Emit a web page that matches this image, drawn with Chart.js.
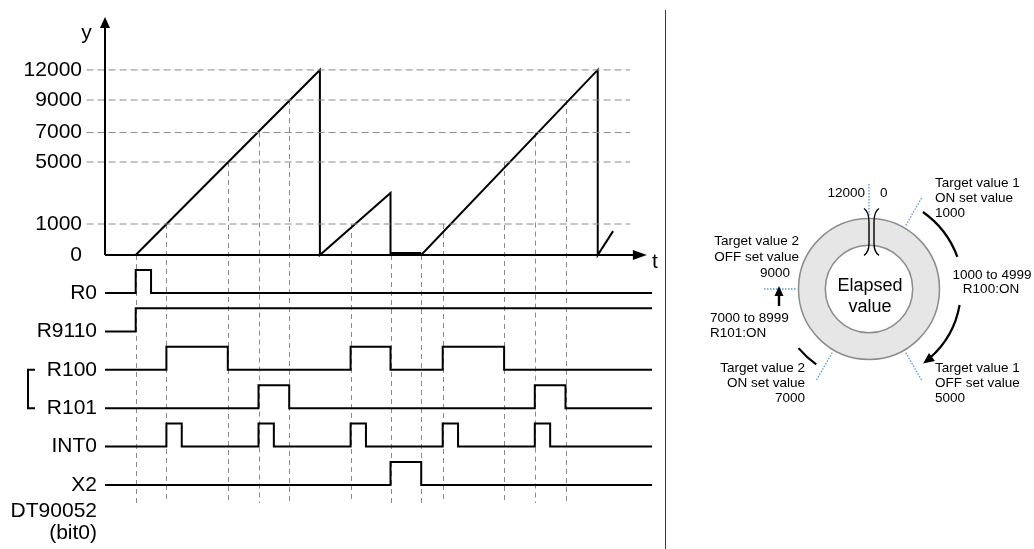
<!DOCTYPE html>
<html><head><meta charset="utf-8">
<script src="https://cdn.jsdelivr.net/npm/chart.js@4/dist/chart.umd.min.js"></script>
<style>
html,body{margin:0;padding:0;background:#fff;}
#wrap{position:relative;width:1034px;height:549px;overflow:hidden;background:#fff;}
#c1{position:absolute;left:0;top:0;}
#c2{position:absolute;left:680px;top:160px;}
#sep{position:absolute;left:665px;top:10px;width:1px;height:539px;background:#3a3a3a;}
</style></head><body>
<div id="wrap">
<canvas id="c1" width="666" height="549"></canvas>
<div id="sep"></div>
<canvas id="c2" width="354" height="260"></canvas>
</div>
<script>
// ---------------- data ----------------
const yTicks = [0, 1000, 5000, 7000, 9000, 12000];
const tickRank = [0, 1, 3, 3.95, 5, 5.97];          // schematic spacing of the value axis
const sawT = [0, 60, 60, 83, 83, 93, 150.5, 150.5, 155.5];
const sawV = [0, 12000, 0, 3000, 0, 0, 12000, 0, 770];
const guideT = [0, 10, 30, 40, 50, 70, 83, 93, 100, 120, 130, 140];
const guideV = [0, 1000, 5000, 7000, 9000, 1000, 0, 0, 1000, 5000, 7000, 9000];
const signalNames = ['R0', 'R9110', 'R100', 'R101', 'INT0', 'X2'];
const r0Edges = [0, 5];
const r9110Edges = [0];
const r100Edges = [10, 30, 70, 83, 100, 120];
const r101Edges = [40, 50, 130, 140];
const int0Edges = [10, 15, 40, 45, 70, 75, 100, 105, 130, 135];
const x2Edges = [83, 93];
const signalEdges = [r0Edges, r9110Edges, r100Edges, r101Edges, int0Edges, x2Edges];
const ringBounds = [0, 1000, 5000, 7000, 9000, 12000];

// ---------------- layout constants ----------------
const FONT = '"Liberation Sans", Arial, sans-serif';
const T_MIN = -10, T_MAX = 170;
const SIG_END = 168.2, GRID_START = -16, GRID_END = 161, ARROW_END = 166.5;
const RANK_PX = 31, ZERO_PX = 255, TOP_PX = 17, H = 549;
const yMax = (ZERO_PX - TOP_PX) / RANK_PX;
const yMin = yMax - (H - TOP_PX) / RANK_PX;
const ROW_PX = 38.4, ROW0_PX = 293, HIGH = 0.6;
const ysMax = (ROW0_PX - TOP_PX) / ROW_PX;
const ysMin = ysMax - (H - TOP_PX) / ROW_PX;
const GUIDE_BOTTOM = -5.47;
const PX_PER_T = 3.07;
const padRight = 666 - 105 - (T_MAX - T_MIN) * PX_PER_T;

// ------------- piecewise value scale -------------
function toRank(v) {
  const n = yTicks.length;
  if (v <= yTicks[0]) return tickRank[0] + (v - yTicks[0]) / (yTicks[1] - yTicks[0]) * (tickRank[1] - tickRank[0]);
  for (let i = 1; i < n; i++) {
    if (v <= yTicks[i]) {
      const f = (v - yTicks[i - 1]) / (yTicks[i] - yTicks[i - 1]);
      return tickRank[i - 1] + f * (tickRank[i] - tickRank[i - 1]);
    }
  }
  const f = (v - yTicks[n - 1]) / (yTicks[n - 1] - yTicks[n - 2]);
  return tickRank[n - 1] + f * (tickRank[n - 1] - tickRank[n - 2]);
}
class LevelScale extends Chart.LinearScale {
  getPixelForValue(v) {
    if (v === null || v === undefined) return NaN;
    return this.getPixelForDecimal((toRank(v) - this._startValue) / this._valueRange);
  }
}
LevelScale.id = 'level';
LevelScale.defaults = Chart.LinearScale.defaults;
Chart.register(LevelScale);

// ------------- datasets -------------
const rowY = (row, s) => -row + s * HIGH;
function stepPoints(edges, row) {
  const pts = [];
  let s = 0;
  pts.push({x: T_MIN, y: rowY(row, s)});
  edges.forEach(e => {
    pts.push({x: e, y: rowY(row, s)});
    s = 1 - s;
    pts.push({x: e, y: rowY(row, s)});
  });
  pts.push({x: SIG_END, y: rowY(row, s)});
  return pts;
}
const base = {showLine: true, pointRadius: 0, tension: 0, fill: false, clip: false};
const datasets = [];
yTicks.filter(v => v > 0).forEach(v => {
  datasets.push(Object.assign({}, base, {
    yAxisID: 'y', borderColor: '#8a8a8a', borderWidth: 1, borderDash: [7, 4],
    data: [{x: GRID_START, y: v}, {x: GRID_END, y: v}]
  }));
});
datasets.push(Object.assign({}, base, {
  yAxisID: 'y', borderColor: '#000', borderWidth: 2,
  data: sawT.map((t, i) => ({x: t, y: sawV[i]}))
}));
signalEdges.forEach((edges, row) => {
  datasets.push(Object.assign({}, base, {
    yAxisID: 'ys', borderColor: '#000', borderWidth: 2,
    data: stepPoints(edges, row)
  }));
});

const timingPlugin = {
  id: 'timing',
  beforeDatasetsDraw(chart) {
    const {ctx} = chart;
    const xs = chart.scales.x, yl = chart.scales.y, ys = chart.scales.ys;
    ctx.save();
    ctx.strokeStyle = '#8a8a8a';
    ctx.lineWidth = 1;
    ctx.setLineDash([5, 4]);
    guideT.forEach((t, i) => {
      const x = Math.round(xs.getPixelForValue(t)) + 0.5;
      ctx.beginPath();
      ctx.moveTo(x, yl.getPixelForValue(guideV[i]));
      ctx.lineTo(x, ys.getPixelForValue(GUIDE_BOTTOM));
      ctx.stroke();
    });
    ctx.restore();
  },
  afterDatasetsDraw(chart) {
    const {ctx, chartArea} = chart;
    const xs = chart.scales.x, yl = chart.scales.y, ys = chart.scales.ys;
    const ax = xs.getPixelForValue(T_MIN);
    const ay = yl.getPixelForValue(0);
    const tipX = xs.getPixelForValue(ARROW_END);
    ctx.save();
    ctx.strokeStyle = '#000';
    ctx.fillStyle = '#000';
    ctx.lineWidth = 2;
    ctx.setLineDash([]);
    // axes
    ctx.beginPath();
    ctx.moveTo(ax, ay); ctx.lineTo(tipX - 10, ay);
    ctx.moveTo(ax, ay); ctx.lineTo(ax, chartArea.top + 8);
    ctx.stroke();
    ctx.beginPath();
    ctx.moveTo(tipX, ay); ctx.lineTo(tipX - 14, ay - 5); ctx.lineTo(tipX - 14, ay + 5); ctx.closePath(); ctx.fill();
    ctx.beginPath();
    ctx.moveTo(ax, chartArea.top); ctx.lineTo(ax - 5, chartArea.top + 11); ctx.lineTo(ax + 5, chartArea.top + 11); ctx.closePath(); ctx.fill();
    // flat stretch of the elapsed value drawn slightly heavier (as in the source)
    ctx.lineWidth = 2;
    ctx.beginPath();
    ctx.moveTo(xs.getPixelForValue(sawT[4]), ay - 2);
    ctx.lineTo(xs.getPixelForValue(sawT[5]), ay - 2);
    ctx.stroke();
    // axis names
    ctx.font = '21px ' + FONT;
    ctx.textBaseline = 'middle';
    ctx.textAlign = 'center';
    ctx.fillText('y', ax - 18.5, chartArea.top + 16);
    ctx.fillText('t', tipX + 8, ay + 7);
    // row labels
    ctx.textAlign = 'right';
    signalNames.forEach((n, row) => {
      ctx.fillText(n, ax - 8, ys.getPixelForValue(rowY(row, 0)));
    });
    const x2y = ys.getPixelForValue(rowY(5, 0));
    ctx.fillText('DT90052', ax - 8, x2y + 26);
    ctx.fillText('(bit0)', ax - 8, x2y + 48);
    // bracket joining R100 / R101
    const b1 = ys.getPixelForValue(rowY(2, 0)), b2 = ys.getPixelForValue(rowY(3, 0));
    ctx.beginPath();
    ctx.moveTo(ax - 70, b1); ctx.lineTo(ax - 77, b1); ctx.lineTo(ax - 77, b2); ctx.lineTo(ax - 70, b2);
    ctx.stroke();
    ctx.restore();
  }
};

new Chart(document.getElementById('c1'), {
  type: 'scatter',
  data: {datasets},
  options: {
    responsive: false, animation: false, events: [], devicePixelRatio: 1,
    layout: {padding: {left: 0, top: TOP_PX, right: padRight, bottom: 0}},
    plugins: {legend: {display: false}, tooltip: {enabled: false}},
    scales: {
      x: {type: 'linear', min: T_MIN, max: T_MAX, display: false},
      y: {
        type: 'level', position: 'left', min: yMin, max: yMax, bounds: 'data',
        grid: {display: false, drawTicks: false},
        border: {display: false},
        ticks: {color: '#000', font: {size: 21, family: FONT}, padding: 23, autoSkip: false,
                callback: (v) => String(v)},
        afterBuildTicks: (s) => { s.ticks = yTicks.map(v => ({value: v})); },
        afterFit: (s) => { s.width = 105; s.paddingTop = 0; s.paddingBottom = 0; }
      },
      ys: {type: 'linear', display: false, min: ysMin, max: ysMax}
    }
  },
  plugins: [timingPlugin]
});

// ------------- ring diagram -------------
const ringSpans = ringBounds.slice(1).map((b, i) => b - ringBounds[i]);
const BLUE = '#5b9bd5';
function clockPt(cx, cy, rho, deg) {
  const a = deg * Math.PI / 180;
  return [cx + rho * Math.sin(a), cy - rho * Math.cos(a)];
}
function arrowHead(ctx, tip, dir, len, half) {
  const bx = tip[0] - dir[0] * len, by = tip[1] - dir[1] * len;
  ctx.beginPath();
  ctx.moveTo(tip[0], tip[1]);
  ctx.lineTo(bx - dir[1] * half, by + dir[0] * half);
  ctx.lineTo(bx + dir[1] * half, by - dir[0] * half);
  ctx.closePath();
  ctx.fill();
}
const ringPlugin = {
  id: 'ring',
  afterDraw(chart) {
    const {ctx} = chart;
    const arcs = chart.getDatasetMeta(0).data;
    const cx = arcs[0].x, cy = arcs[0].y, R = arcs[0].outerRadius, r = arcs[0].innerRadius;
    ctx.save();
    // outlines
    ctx.strokeStyle = '#8c8c8c';
    ctx.lineWidth = 1.5;
    ctx.beginPath(); ctx.arc(cx, cy, R, 0, Math.PI * 2); ctx.stroke();
    ctx.beginPath(); ctx.arc(cx, cy, r, 0, Math.PI * 2); ctx.stroke();
    // boundary markers (blue dotted)
    ctx.strokeStyle = BLUE;
    ctx.lineWidth = 1.3;
    ctx.setLineDash([1.5, 1.5]);
    arcs.forEach(a => {
      const ang = a.startAngle;
      ctx.beginPath();
      ctx.moveTo(cx + (R + 3) * Math.cos(ang), cy + (R + 3) * Math.sin(ang));
      ctx.lineTo(cx + (R + 36) * Math.cos(ang), cy + (R + 36) * Math.sin(ang));
      ctx.stroke();
    });
    ctx.setLineDash([]);
    // brackets at 0 / 12000
    ctx.strokeStyle = '#000';
    ctx.lineWidth = 1.4;
    const bx = cx + 2.5, top = cy - R - 10, v1 = cy - R + 4, v2 = cy - r - 2, bot = cy - r + 10;
    [-1, 1].forEach(sd => {
      ctx.beginPath();
      ctx.moveTo(bx + sd * 7.5, top);
      ctx.quadraticCurveTo(bx + sd * 2.5, top + 3, bx + sd * 2.5, v1);
      ctx.lineTo(bx + sd * 2.5, v2);
      ctx.quadraticCurveTo(bx + sd * 2.5, bot - 3, bx + sd * 7.5, bot);
      ctx.stroke();
    });
    // black arcs / arrows
    ctx.lineWidth = 2.2;
    ctx.fillStyle = '#000';
    const rad = d => (d - 90) * Math.PI / 180;
    ctx.beginPath(); ctx.arc(cx, cy, 94, rad(35), rad(70)); ctx.stroke();
    const endDeg = 144, rho2 = 92;
    ctx.beginPath(); ctx.arc(cx, cy, rho2, rad(100), rad(endDeg) - 9 / rho2); ctx.stroke();
    const tip = clockPt(cx, cy, rho2, endDeg);
    const ea = endDeg * Math.PI / 180;
    arrowHead(ctx, tip, [Math.cos(ea), Math.sin(ea)], 11, 5);
    ctx.beginPath(); ctx.arc(cx, cy, 92, rad(215), rad(230)); ctx.stroke();
    ctx.lineWidth = 2.4;
    ctx.beginPath(); ctx.moveTo(cx - 90, cy + 17); ctx.lineTo(cx - 90, cy + 4); ctx.stroke();
    arrowHead(ctx, [cx - 90, cy - 3], [0, -1], 10, 4.5);
    // texts
    ctx.fillStyle = '#000';
    ctx.textBaseline = 'middle';
    ctx.font = '13.5px ' + FONT;
    const txt = (s, x, y, al) => { ctx.textAlign = al; ctx.fillText(s, x, y); };
    txt('12000', cx - 4, cy - 96, 'right');
    txt('0', cx + 11, cy - 96, 'left');
    txt('Target value 1', cx + 66, cy - 106, 'left');
    txt('ON set value', cx + 66, cy - 91, 'left');
    txt('1000', cx + 66, cy - 76, 'left');
    txt('1000 to 4999', cx + 123, cy - 14, 'center');
    txt('R100:ON', cx + 122, cy, 'center');
    txt('Target value 1', cx + 66, cy + 79, 'left');
    txt('OFF set value', cx + 66, cy + 94, 'left');
    txt('5000', cx + 66, cy + 109, 'left');
    txt('Target value 2', cx - 70, cy - 48, 'right');
    txt('OFF set value', cx - 70, cy - 32, 'right');
    txt('9000', cx - 79, cy - 16, 'right');
    txt('7000 to 8999', cx - 159, cy + 29, 'left');
    txt('R101:ON', cx - 159, cy + 44, 'left');
    txt('Target value 2', cx - 64, cy + 79, 'right');
    txt('ON set value', cx - 64, cy + 94, 'right');
    txt('7000', cx - 64, cy + 109, 'right');
    ctx.font = '18px ' + FONT;
    txt('Elapsed', cx + 1, cy - 3, 'center');
    txt('value', cx + 1, cy + 18, 'center');
    ctx.restore();
  }
};

new Chart(document.getElementById('c2'), {
  type: 'doughnut',
  data: {
    labels: ringSpans.map((s, i) => ringBounds[i] + '-' + ringBounds[i + 1]),
    datasets: [{data: ringSpans, backgroundColor: '#e6e6e6', borderColor: '#e6e6e6', borderWidth: 1, hoverOffset: 0, offset: 0}]
  },
  options: {
    responsive: false, animation: false, events: [], devicePixelRatio: 1,
    cutout: '62%',
    layout: {padding: {left: 118, top: 58, right: 94, bottom: 60}},
    plugins: {legend: {display: false}, tooltip: {enabled: false}}
  },
  plugins: [ringPlugin]
});
</script>
</body></html>
